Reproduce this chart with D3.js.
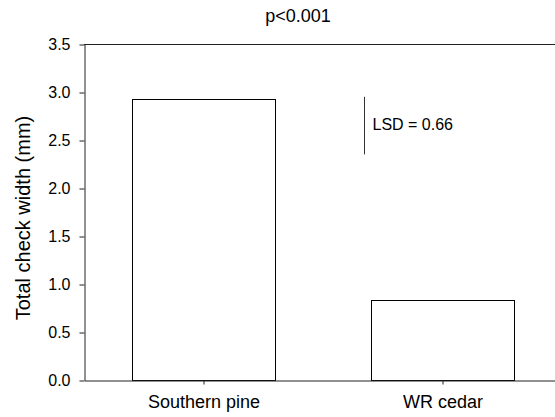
<!DOCTYPE html>
<html>
<head>
<meta charset="utf-8">
<script src="https://cdn.jsdelivr.net/npm/d3@7"></script>
<style>
    body { margin: 0; background: #fff; }
    svg { display: block; font-family: Arial, "Liberation Sans", sans-serif; }
</style>
</head>
<body>
<div id="chart"></div>
<script>
//----------------------------------------------------------------
// Données du graphique
//----------------------------------------------------------------
const categories = ["Southern pine", "WR cedar"];
const valeurs = [2.93, 0.83];
const yTicks = [0, 0.5, 1.0, 1.5, 2.0, 2.5, 3.0, 3.5];
const titre = "p<0.001";
const yLabel = "Total check width (mm)";
const lsdTexte = "LSD = 0.66";
const lsdHaut = 2.95;
const lsdBas = 2.35;

//----------------------------------------------------------------
// Mise en place du svg et des échelles
//----------------------------------------------------------------
const width = 555, height = 417;
const margin = {top: 44, right: -7, bottom: 37, left: 84};

const svg = d3.select("#chart").append("svg")
    .attr("width", width)
    .attr("height", height);

const x = d3.scaleBand()
    .domain(categories)
    .range([margin.left, width - margin.right])
    .paddingInner(0.4)
    .paddingOuter(0.2);

const y = d3.scaleLinear()
    .domain([0, 3.5])
    .range([height - margin.bottom, margin.top]);

/**
 * Dessin des barres
 */
svg.append("g")
    .selectAll("rect")
    .data(valeurs)
    .join("rect")
        .attr("x", (d, i) => Math.round(x(categories[i])) + 0.5)
        .attr("y", d => Math.round(y(d)) + 0.5)
        .attr("width", Math.round(x.bandwidth()))
        .attr("height", d => Math.round(y(0)) - Math.round(y(d)))
        .attr("fill", "white")
        .attr("stroke", "black")
        .attr("stroke-width", 1);

// axe Y
const axeY = svg.append("g")
    .attr("transform", "translate(" + (margin.left + 0.5) + ",0.5)")
    .call(d3.axisLeft(y)
        .tickValues(yTicks)
        .tickFormat(d3.format(".1f"))
        .tickSize(5)
        .tickSizeOuter(0)
        .tickPadding(9));

// axe X
const axeX = svg.append("g")
    .attr("transform", "translate(0.5," + (Math.round(y(0)) + 0.5) + ")")
    .call(d3.axisBottom(x)
        .tickSize(4)
        .tickSizeOuter(0)
        .tickPadding(11));

[axeY, axeX].forEach(function (a) {
    a.selectAll("path, line").attr("stroke", "#222");
    a.selectAll("text")
        .attr("fill", "black")
        .attr("font-family", "Arial, 'Liberation Sans', sans-serif");
});
axeY.selectAll("text").attr("font-size", 16);
axeX.selectAll("text").attr("font-size", 18);

// ligne du haut du cadre
svg.append("line")
    .attr("x1", margin.left)
    .attr("x2", width)
    .attr("y1", Math.round(y(3.5)) + 0.5)
    .attr("y2", Math.round(y(3.5)) + 0.5)
    .attr("stroke", "#222");

// titre
svg.append("text")
    .attr("x", 298)
    .attr("y", 22)
    .attr("text-anchor", "middle")
    .attr("font-size", 18)
    .text(titre);

// libellé de l'axe Y
svg.append("text")
    .attr("transform", "translate(30,218) rotate(-90)")
    .attr("text-anchor", "middle")
    .attr("font-size", 20)
    .text(yLabel);

/**
 * Barre du LSD
 */
const lsdX = Math.round(x(categories[1])) - 7 + 0.5;
svg.append("line")
    .attr("x1", lsdX)
    .attr("x2", lsdX)
    .attr("y1", y(lsdHaut))
    .attr("y2", y(lsdBas))
    .attr("stroke", "#333");

svg.append("text")
    .attr("x", lsdX + 8)
    .attr("y", (y(lsdHaut) + y(lsdBas)) / 2 + 4)
    .attr("font-size", 16)
    .text(lsdTexte);
</script>
</body>
</html>
